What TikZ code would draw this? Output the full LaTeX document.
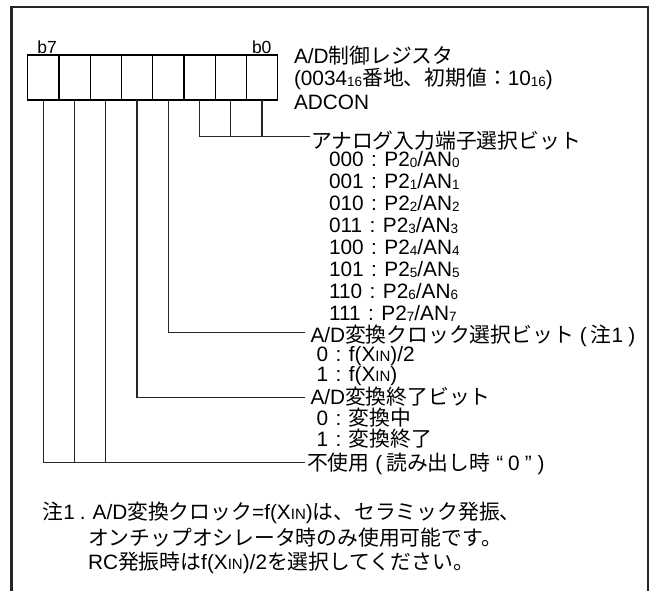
\documentclass[tikz,border=0pt]{standalone}
\usepackage{fontspec}
\setmainfont{Liberation Sans}
\newfontfamily\jpf{Noto Sans CJK JP}
\newcommand\J[1]{{\jpf #1}}
\newcommand\sbs[1]{\raisebox{-0.5pt}{\fontsize{13.5}{13.5}\selectfont #1}}
\newcommand\xin{X{\fontsize{15}{15}\selectfont IN}}
\newcommand\cln{\hspace{7.5pt}:\hspace{7.5pt}}
\begin{document}
\begin{tikzpicture}[x=1pt,y=-1pt,
  cell/.style={draw,line width=1.2pt,minimum width=31.25pt,minimum height=45pt,inner sep=0pt,outer sep=0pt},
  txt/.style={anchor=base west,inner sep=0pt,outer sep=0pt,font=\fontsize{20.8}{22}\selectfont},
  bl/.style={anchor=base west,inner sep=0pt,outer sep=0pt,font=\fontsize{17.5}{18}\selectfont},
  wire/.style={line width=1.2pt,draw=black!85}]
\useasboundingbox (0,0) rectangle (651,590);
% frame
\draw[line width=2.2pt,draw=black!85] (11.5,592) -- (11.5,7) -- (648,7) -- (648,592);
% register cells
\foreach \i in {0,...,7}
  \node[cell] (c\i) at ({277.7-31.25*(\i+0.5)},77.5) {};
\node[bl] (lb7) at (37.5,53) {b7};
\node[bl] (lb0) at (252,53) {b0};
% title
\node[txt] (t1) at (294,63.5) {A/D\J{制御レジスタ}};
\node[txt] (t2) at (294,85.5) {(0034\sbs{16}\J{番地、初期値：}10\sbs{16})};
\node[txt] (t3) at (294,109) {ADCON};
% junction coordinates
\coordinate (ja) at (310,136.5);
\coordinate (jb) at (305,332.7);
\coordinate (jc) at (305,397.3);
\coordinate (jd) at (305,462.7);
% connectors
\draw[wire] (c2.south) |- (ja);
\draw[wire] (c1.south) -- (c1.south |- ja);
\draw[wire] (c0.south) -- (c0.south |- ja);
\draw[wire] (c3.south) |- (jb);
\draw[wire] (c4.south) |- (jc);
\draw[wire] (c7.south) |- (jd);
\draw[wire] (c6.south) -- (c6.south |- jd);
\draw[wire] (c5.south) -- (c5.south |- jd);
% analog input select
\node[txt] (ana) at (311,148.5) {\J{アナログ入力端子選択ビット}};
\node[txt] (s0) at (329,166.8) {000\cln P2\sbs{0}/AN\sbs{0}};
\node[txt] (s1) at (329,188.8) {001\cln P2\sbs{1}/AN\sbs{1}};
\node[txt] (s2) at (329,210.8) {010\cln P2\sbs{2}/AN\sbs{2}};
\node[txt] (s3) at (329,232.8) {011\cln P2\sbs{3}/AN\sbs{3}};
\node[txt] (s4) at (329,254.8) {100\cln P2\sbs{4}/AN\sbs{4}};
\node[txt] (s5) at (329,276.8) {101\cln P2\sbs{5}/AN\sbs{5}};
\node[txt] (s6) at (329,298.8) {110\cln P2\sbs{6}/AN\sbs{6}};
\node[txt] (s7) at (329,320.8) {111\cln P2\sbs{7}/AN\sbs{7}};
% clock select
\node[txt] (clk) at (310.5,342) {A/D\J{変換クロック選択ビット}\hspace{6pt}(\hspace{4pt}\J{注}1\hspace{5pt})};
\node[txt] (f0) at (316.5,361) {0\cln f(\xin)/2};
\node[txt] (f1) at (316.5,381) {1\cln f(\xin)};
% conversion end
\node[txt] (end) at (310.5,404.5) {A/D\J{変換終了ビット}};
\node[txt] (e0) at (316.5,425.5) {0\cln\J{変換中}};
\node[txt] (e1) at (316.5,446.5) {1\cln\J{変換終了}};
% unused
\node[txt] (un) at (307,470.5) {\J{不使用}\hspace{6pt}(\hspace{4pt}\J{読み出し時}\hspace{6pt}“\hspace{5pt}0\hspace{5pt}”\hspace{6pt})};
% note
\node[txt] (n1) at (42.5,519) {\J{注}1\hspace{5pt}.\hspace{7pt}A/D\J{変換クロック}=f(\xin)\J{は、セラミック発振、}};
\node[txt] (n2) at (88,545) {\J{オンチップオシレータ時のみ使用可能です。}};
\node[txt] (n3) at (88,569) {RC\J{発振時は}f(\xin)/2\J{を選択してください。}};
\end{tikzpicture}
\end{document}
